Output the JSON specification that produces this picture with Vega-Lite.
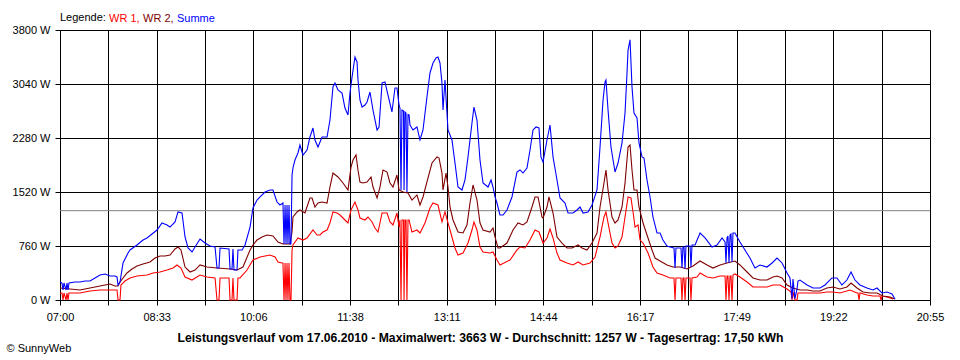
{
  "$schema": "https://vega.github.io/schema/vega-lite/v6.json",
  "width": 870,
  "height": 270,
  "autosize": "none",
  "padding": {"left": 60, "top": 30, "right": 30, "bottom": 60},
  "background": "white",
  "config": {
    "view": {"stroke": null},
    "font": "Liberation Sans",
    "axis": {"labelFont": "Liberation Sans", "labelFontSize": 11, "labelColor": "black", "titleFont": "Liberation Sans", "titleColor": "black", "domainColor": "black", "tickColor": "black", "gridColor": "black", "gridOpacity": 1, "gridWidth": 1, "tickSize": 5},
    "legend": {"labelFont": "Liberation Sans", "titleFont": "Liberation Sans"}
  },
  "data": {"values": [
    {"t":420,"s":"WR 1","w":99},{"t":421.9,"s":"WR 1","w":99},{"t":422.9,"s":"WR 1","w":0},{"t":423.8,"s":"WR 1","w":99},{"t":425.8,"s":"WR 1","w":0},{"t":426.7,"s":"WR 1","w":99},{"t":427.7,"s":"WR 1","w":0},{"t":428.6,"s":"WR 1","w":99},{"t":439.2,"s":"WR 1","w":99},{"t":448.8,"s":"WR 1","w":127},{"t":458.4,"s":"WR 1","w":141},{"t":468.0,"s":"WR 1","w":141},{"t":474.7,"s":"WR 1","w":141},{"t":475.7,"s":"WR 1","w":0},{"t":477.6,"s":"WR 1","w":0},{"t":478.5,"s":"WR 1","w":211},{"t":482.4,"s":"WR 1","w":267},{"t":487.2,"s":"WR 1","w":310},{"t":493.9,"s":"WR 1","w":338},{"t":503.5,"s":"WR 1","w":352},{"t":509.3,"s":"WR 1","w":380},{"t":516.0,"s":"WR 1","w":394},{"t":522.7,"s":"WR 1","w":422},{"t":528.5,"s":"WR 1","w":450},{"t":532.3,"s":"WR 1","w":493},{"t":536.1,"s":"WR 1","w":450},{"t":540.0,"s":"WR 1","w":324},{"t":546.7,"s":"WR 1","w":281},{"t":554.4,"s":"WR 1","w":352},{"t":561.1,"s":"WR 1","w":324},{"t":568.8,"s":"WR 1","w":310},{"t":570.7,"s":"WR 1","w":0},{"t":572.6,"s":"WR 1","w":0},{"t":573.6,"s":"WR 1","w":310},{"t":582.2,"s":"WR 1","w":310},{"t":583.2,"s":"WR 1","w":0},{"t":585.1,"s":"WR 1","w":0},{"t":586.0,"s":"WR 1","w":310},{"t":587.0,"s":"WR 1","w":0},{"t":589.9,"s":"WR 1","w":0},{"t":590.8,"s":"WR 1","w":310},{"t":592.8,"s":"WR 1","w":310},{"t":599.5,"s":"WR 1","w":422},{"t":605.2,"s":"WR 1","w":563},{"t":612.0,"s":"WR 1","w":605},{"t":621.6,"s":"WR 1","w":633},{"t":626.4,"s":"WR 1","w":605},{"t":629.2,"s":"WR 1","w":535},{"t":633.1,"s":"WR 1","w":521},{"t":634.0,"s":"WR 1","w":521},{"t":635.0,"s":"WR 1","w":0},{"t":636.0,"s":"WR 1","w":521},{"t":636.9,"s":"WR 1","w":0},{"t":637.9,"s":"WR 1","w":521},{"t":638.8,"s":"WR 1","w":0},{"t":639.8,"s":"WR 1","w":521},{"t":640.7,"s":"WR 1","w":0},{"t":641.7,"s":"WR 1","w":0},{"t":642.7,"s":"WR 1","w":704},{"t":643.6,"s":"WR 1","w":774},{"t":648.4,"s":"WR 1","w":873},{"t":653.2,"s":"WR 1","w":844},{"t":657.1,"s":"WR 1","w":873},{"t":662.8,"s":"WR 1","w":985},{"t":666.7,"s":"WR 1","w":915},{"t":669.5,"s":"WR 1","w":915},{"t":672.4,"s":"WR 1","w":957},{"t":676.3,"s":"WR 1","w":985},{"t":679.1,"s":"WR 1","w":1084},{"t":682.0,"s":"WR 1","w":1239},{"t":685.9,"s":"WR 1","w":1224},{"t":688.7,"s":"WR 1","w":1196},{"t":693.5,"s":"WR 1","w":1126},{"t":696.4,"s":"WR 1","w":1084},{"t":699.3,"s":"WR 1","w":1267},{"t":703.1,"s":"WR 1","w":1379},{"t":706.0,"s":"WR 1","w":1267},{"t":707.9,"s":"WR 1","w":1154},{"t":712.7,"s":"WR 1","w":1126},{"t":715.6,"s":"WR 1","w":1168},{"t":719.5,"s":"WR 1","w":1098},{"t":722.3,"s":"WR 1","w":1013},{"t":725.2,"s":"WR 1","w":957},{"t":729.1,"s":"WR 1","w":1224},{"t":733.9,"s":"WR 1","w":1224},{"t":736.7,"s":"WR 1","w":1098},{"t":739.6,"s":"WR 1","w":1056},{"t":743.4,"s":"WR 1","w":1224},{"t":745.4,"s":"WR 1","w":1027},{"t":746.3,"s":"WR 1","w":1126},{"t":747.3,"s":"WR 1","w":0},{"t":748.2,"s":"WR 1","w":1126},{"t":749.7,"s":"WR 1","w":1126},{"t":750.2,"s":"WR 1","w":0},{"t":751.1,"s":"WR 1","w":1126},{"t":752.1,"s":"WR 1","w":1126},{"t":753.0,"s":"WR 1","w":0},{"t":754.0,"s":"WR 1","w":1126},{"t":755.0,"s":"WR 1","w":1126},{"t":757.8,"s":"WR 1","w":957},{"t":762.6,"s":"WR 1","w":985},{"t":765.5,"s":"WR 1","w":943},{"t":770.3,"s":"WR 1","w":1084},{"t":775.1,"s":"WR 1","w":1295},{"t":778.0,"s":"WR 1","w":1365},{"t":782.8,"s":"WR 1","w":1337},{"t":786.6,"s":"WR 1","w":1098},{"t":789.5,"s":"WR 1","w":1239},{"t":792.4,"s":"WR 1","w":1084},{"t":796.2,"s":"WR 1","w":887},{"t":799.1,"s":"WR 1","w":732},{"t":802.0,"s":"WR 1","w":633},{"t":806.8,"s":"WR 1","w":661},{"t":811.6,"s":"WR 1","w":802},{"t":815.4,"s":"WR 1","w":985},{"t":817.3,"s":"WR 1","w":1098},{"t":820.2,"s":"WR 1","w":985},{"t":823.1,"s":"WR 1","w":746},{"t":826.0,"s":"WR 1","w":676},{"t":832.7,"s":"WR 1","w":661},{"t":835.6,"s":"WR 1","w":676},{"t":839.4,"s":"WR 1","w":563},{"t":842.3,"s":"WR 1","w":493},{"t":851.9,"s":"WR 1","w":563},{"t":858.6,"s":"WR 1","w":704},{"t":861.5,"s":"WR 1","w":746},{"t":866.3,"s":"WR 1","w":732},{"t":871.1,"s":"WR 1","w":844},{"t":875.9,"s":"WR 1","w":985},{"t":879.7,"s":"WR 1","w":957},{"t":883.6,"s":"WR 1","w":802},{"t":887.4,"s":"WR 1","w":873},{"t":890.3,"s":"WR 1","w":999},{"t":893.2,"s":"WR 1","w":873},{"t":897.0,"s":"WR 1","w":661},{"t":899.9,"s":"WR 1","w":563},{"t":906.6,"s":"WR 1","w":521},{"t":912.4,"s":"WR 1","w":493},{"t":917.2,"s":"WR 1","w":535},{"t":922.0,"s":"WR 1","w":493},{"t":928.7,"s":"WR 1","w":521},{"t":933.5,"s":"WR 1","w":605},{"t":938.3,"s":"WR 1","w":887},{"t":942.1,"s":"WR 1","w":1168},{"t":944.0,"s":"WR 1","w":1239},{"t":946.0,"s":"WR 1","w":1084},{"t":949.8,"s":"WR 1","w":802},{"t":952.7,"s":"WR 1","w":732},{"t":955.6,"s":"WR 1","w":760},{"t":959.4,"s":"WR 1","w":887},{"t":962.3,"s":"WR 1","w":1168},{"t":965.2,"s":"WR 1","w":1450},{"t":968.0,"s":"WR 1","w":1436},{"t":970.0,"s":"WR 1","w":1239},{"t":971.9,"s":"WR 1","w":1027},{"t":974.8,"s":"WR 1","w":1056},{"t":976.7,"s":"WR 1","w":844},{"t":979.6,"s":"WR 1","w":802},{"t":984.4,"s":"WR 1","w":661},{"t":989.1,"s":"WR 1","w":464},{"t":993.0,"s":"WR 1","w":380},{"t":998.7,"s":"WR 1","w":352},{"t":1005.5,"s":"WR 1","w":310},{"t":1009.3,"s":"WR 1","w":310},{"t":1010.3,"s":"WR 1","w":0},{"t":1011.2,"s":"WR 1","w":310},{"t":1016.0,"s":"WR 1","w":310},{"t":1017.0,"s":"WR 1","w":0},{"t":1017.9,"s":"WR 1","w":310},{"t":1018.9,"s":"WR 1","w":310},{"t":1019.9,"s":"WR 1","w":0},{"t":1020.8,"s":"WR 1","w":310},{"t":1024.7,"s":"WR 1","w":310},{"t":1025.6,"s":"WR 1","w":0},{"t":1026.6,"s":"WR 1","w":310},{"t":1031.4,"s":"WR 1","w":324},{"t":1034.3,"s":"WR 1","w":380},{"t":1041.0,"s":"WR 1","w":324},{"t":1046.7,"s":"WR 1","w":310},{"t":1053.5,"s":"WR 1","w":338},{"t":1058.3,"s":"WR 1","w":338},{"t":1059.2,"s":"WR 1","w":0},{"t":1060.2,"s":"WR 1","w":338},{"t":1061.1,"s":"WR 1","w":338},{"t":1062.1,"s":"WR 1","w":0},{"t":1063.1,"s":"WR 1","w":338},{"t":1064.0,"s":"WR 1","w":338},{"t":1065.0,"s":"WR 1","w":0},{"t":1065.9,"s":"WR 1","w":352},{"t":1067.8,"s":"WR 1","w":366},{"t":1072.6,"s":"WR 1","w":324},{"t":1079.4,"s":"WR 1","w":253},{"t":1085.1,"s":"WR 1","w":183},{"t":1091.8,"s":"WR 1","w":183},{"t":1098.6,"s":"WR 1","w":183},{"t":1104.3,"s":"WR 1","w":211},{"t":1111.0,"s":"WR 1","w":211},{"t":1117.8,"s":"WR 1","w":155},{"t":1121.6,"s":"WR 1","w":113},{"t":1122.6,"s":"WR 1","w":0},{"t":1123.5,"s":"WR 1","w":113},{"t":1125.4,"s":"WR 1","w":0},{"t":1127.4,"s":"WR 1","w":0},{"t":1128.3,"s":"WR 1","w":99},{"t":1130.2,"s":"WR 1","w":99},{"t":1142.7,"s":"WR 1","w":99},{"t":1149.4,"s":"WR 1","w":99},{"t":1156.1,"s":"WR 1","w":113},{"t":1161.9,"s":"WR 1","w":113},{"t":1168.6,"s":"WR 1","w":99},{"t":1178.2,"s":"WR 1","w":141},{"t":1184.9,"s":"WR 1","w":99},{"t":1185.9,"s":"WR 1","w":99},{"t":1186.9,"s":"WR 1","w":0},{"t":1187.8,"s":"WR 1","w":99},{"t":1194.5,"s":"WR 1","w":70},{"t":1200.3,"s":"WR 1","w":56},{"t":1207.0,"s":"WR 1","w":56},{"t":1208.0,"s":"WR 1","w":0},{"t":1208.9,"s":"WR 1","w":56},{"t":1213.7,"s":"WR 1","w":42},{"t":1219.5,"s":"WR 1","w":14},

    {"t":420,"s":"WR 2","w":169},{"t":429.6,"s":"WR 2","w":155},{"t":439.2,"s":"WR 2","w":141},{"t":448.8,"s":"WR 2","w":169},{"t":458.4,"s":"WR 2","w":197},{"t":468.0,"s":"WR 2","w":225},{"t":472.8,"s":"WR 2","w":197},{"t":475.7,"s":"WR 2","w":197},{"t":477.6,"s":"WR 2","w":253},{"t":484.3,"s":"WR 2","w":380},{"t":489.1,"s":"WR 2","w":436},{"t":493.9,"s":"WR 2","w":479},{"t":499.7,"s":"WR 2","w":507},{"t":506.4,"s":"WR 2","w":535},{"t":511.2,"s":"WR 2","w":591},{"t":516.0,"s":"WR 2","w":619},{"t":520.8,"s":"WR 2","w":619},{"t":525.6,"s":"WR 2","w":633},{"t":530.4,"s":"WR 2","w":718},{"t":533.3,"s":"WR 2","w":746},{"t":536.1,"s":"WR 2","w":704},{"t":540.0,"s":"WR 2","w":464},{"t":544.8,"s":"WR 2","w":394},{"t":549.6,"s":"WR 2","w":422},{"t":554.4,"s":"WR 2","w":493},{"t":561.1,"s":"WR 2","w":464},{"t":570.7,"s":"WR 2","w":450},{"t":583.2,"s":"WR 2","w":436},{"t":589.9,"s":"WR 2","w":422},{"t":595.6,"s":"WR 2","w":464},{"t":602.4,"s":"WR 2","w":704},{"t":605.2,"s":"WR 2","w":774},{"t":609.1,"s":"WR 2","w":844},{"t":613.9,"s":"WR 2","w":887},{"t":618.7,"s":"WR 2","w":915},{"t":624.4,"s":"WR 2","w":901},{"t":629.2,"s":"WR 2","w":816},{"t":634.0,"s":"WR 2","w":788},{"t":640.7,"s":"WR 2","w":788},{"t":642.7,"s":"WR 2","w":957},{"t":643.6,"s":"WR 2","w":1168},{"t":647.5,"s":"WR 2","w":1239},{"t":650.3,"s":"WR 2","w":1267},{"t":655.1,"s":"WR 2","w":1224},{"t":659.9,"s":"WR 2","w":1436},{"t":661.9,"s":"WR 2","w":1436},{"t":664.7,"s":"WR 2","w":1309},{"t":667.6,"s":"WR 2","w":1365},{"t":671.5,"s":"WR 2","w":1379},{"t":676.3,"s":"WR 2","w":1365},{"t":679.1,"s":"WR 2","w":1590},{"t":682.0,"s":"WR 2","w":1787},{"t":686.8,"s":"WR 2","w":1731},{"t":691.6,"s":"WR 2","w":1647},{"t":696.4,"s":"WR 2","w":1548},{"t":699.3,"s":"WR 2","w":1872},{"t":701.2,"s":"WR 2","w":1970},{"t":704.1,"s":"WR 2","w":2041},{"t":706.0,"s":"WR 2","w":1830},{"t":707.9,"s":"WR 2","w":1661},{"t":710.8,"s":"WR 2","w":1647},{"t":714.7,"s":"WR 2","w":1661},{"t":718.5,"s":"WR 2","w":1731},{"t":720.4,"s":"WR 2","w":1590},{"t":724.3,"s":"WR 2","w":1436},{"t":727.1,"s":"WR 2","w":1590},{"t":730.0,"s":"WR 2","w":1830},{"t":733.9,"s":"WR 2","w":1801},{"t":736.7,"s":"WR 2","w":1647},{"t":739.6,"s":"WR 2","w":1590},{"t":743.4,"s":"WR 2","w":1759},{"t":745.4,"s":"WR 2","w":1548},{"t":749.2,"s":"WR 2","w":1520},{"t":754.0,"s":"WR 2","w":1506},{"t":757.8,"s":"WR 2","w":1407},{"t":762.6,"s":"WR 2","w":1478},{"t":765.5,"s":"WR 2","w":1337},{"t":768.4,"s":"WR 2","w":1450},{"t":772.2,"s":"WR 2","w":1661},{"t":777.0,"s":"WR 2","w":1928},{"t":781.8,"s":"WR 2","w":2013},{"t":783.8,"s":"WR 2","w":1998},{"t":786.6,"s":"WR 2","w":1787},{"t":787.6,"s":"WR 2","w":1548},{"t":790.5,"s":"WR 2","w":1787},{"t":792.4,"s":"WR 2","w":1590},{"t":794.3,"s":"WR 2","w":1309},{"t":797.2,"s":"WR 2","w":1126},{"t":802.0,"s":"WR 2","w":957},{"t":806.8,"s":"WR 2","w":943},{"t":810.6,"s":"WR 2","w":1056},{"t":813.5,"s":"WR 2","w":1365},{"t":816.4,"s":"WR 2","w":1619},{"t":820.2,"s":"WR 2","w":1407},{"t":823.1,"s":"WR 2","w":1084},{"t":826.0,"s":"WR 2","w":985},{"t":832.7,"s":"WR 2","w":957},{"t":835.6,"s":"WR 2","w":1013},{"t":837.5,"s":"WR 2","w":887},{"t":840.4,"s":"WR 2","w":732},{"t":842.3,"s":"WR 2","w":732},{"t":849.0,"s":"WR 2","w":802},{"t":854.8,"s":"WR 2","w":985},{"t":859.6,"s":"WR 2","w":1084},{"t":864.4,"s":"WR 2","w":1056},{"t":868.2,"s":"WR 2","w":1098},{"t":873.0,"s":"WR 2","w":1309},{"t":875.9,"s":"WR 2","w":1450},{"t":878.8,"s":"WR 2","w":1450},{"t":882.6,"s":"WR 2","w":1168},{"t":883.6,"s":"WR 2","w":1154},{"t":887.4,"s":"WR 2","w":1309},{"t":889.3,"s":"WR 2","w":1450},{"t":893.2,"s":"WR 2","w":1224},{"t":897.0,"s":"WR 2","w":887},{"t":901.8,"s":"WR 2","w":802},{"t":906.6,"s":"WR 2","w":732},{"t":911.4,"s":"WR 2","w":732},{"t":917.2,"s":"WR 2","w":774},{"t":921.0,"s":"WR 2","w":732},{"t":925.8,"s":"WR 2","w":704},{"t":930.6,"s":"WR 2","w":802},{"t":935.4,"s":"WR 2","w":943},{"t":938.3,"s":"WR 2","w":1309},{"t":942.1,"s":"WR 2","w":1647},{"t":944.0,"s":"WR 2","w":1830},{"t":946.0,"s":"WR 2","w":1548},{"t":949.8,"s":"WR 2","w":1168},{"t":952.7,"s":"WR 2","w":1084},{"t":955.6,"s":"WR 2","w":1126},{"t":959.4,"s":"WR 2","w":1309},{"t":962.3,"s":"WR 2","w":1647},{"t":965.2,"s":"WR 2","w":2153},{"t":967.1,"s":"WR 2","w":2181},{"t":969.0,"s":"WR 2","w":1830},{"t":970.9,"s":"WR 2","w":1548},{"t":973.8,"s":"WR 2","w":1548},{"t":975.7,"s":"WR 2","w":1309},{"t":979.6,"s":"WR 2","w":1084},{"t":983.4,"s":"WR 2","w":915},{"t":988.2,"s":"WR 2","w":704},{"t":991.1,"s":"WR 2","w":591},{"t":995.9,"s":"WR 2","w":549},{"t":1002.6,"s":"WR 2","w":493},{"t":1008.3,"s":"WR 2","w":464},{"t":1015.1,"s":"WR 2","w":464},{"t":1021.8,"s":"WR 2","w":436},{"t":1027.5,"s":"WR 2","w":479},{"t":1034.3,"s":"WR 2","w":549},{"t":1041.0,"s":"WR 2","w":493},{"t":1046.7,"s":"WR 2","w":450},{"t":1053.5,"s":"WR 2","w":493},{"t":1060.2,"s":"WR 2","w":521},{"t":1067.8,"s":"WR 2","w":549},{"t":1072.6,"s":"WR 2","w":493},{"t":1079.4,"s":"WR 2","w":394},{"t":1085.1,"s":"WR 2","w":310},{"t":1091.8,"s":"WR 2","w":281},{"t":1098.6,"s":"WR 2","w":281},{"t":1104.3,"s":"WR 2","w":324},{"t":1108.2,"s":"WR 2","w":338},{"t":1113.0,"s":"WR 2","w":310},{"t":1117.8,"s":"WR 2","w":211},{"t":1123.5,"s":"WR 2","w":169},{"t":1130.2,"s":"WR 2","w":141},{"t":1137.0,"s":"WR 2","w":141},{"t":1142.7,"s":"WR 2","w":127},{"t":1149.4,"s":"WR 2","w":127},{"t":1156.1,"s":"WR 2","w":169},{"t":1161.9,"s":"WR 2","w":183},{"t":1168.6,"s":"WR 2","w":155},{"t":1175.3,"s":"WR 2","w":183},{"t":1179.2,"s":"WR 2","w":239},{"t":1184.9,"s":"WR 2","w":169},{"t":1190.7,"s":"WR 2","w":113},{"t":1197.4,"s":"WR 2","w":99},{"t":1204.1,"s":"WR 2","w":99},{"t":1209.9,"s":"WR 2","w":56},{"t":1216.6,"s":"WR 2","w":42},{"t":1221.4,"s":"WR 2","w":14},

    {"t":420,"s":"Summe","w":253},{"t":421.9,"s":"Summe","w":239},{"t":422.9,"s":"Summe","w":141},{"t":423.8,"s":"Summe","w":239},{"t":425.8,"s":"Summe","w":141},{"t":426.7,"s":"Summe","w":239},{"t":427.7,"s":"Summe","w":141},{"t":428.6,"s":"Summe","w":239},{"t":434.4,"s":"Summe","w":253},{"t":439.2,"s":"Summe","w":253},{"t":444.0,"s":"Summe","w":267},{"t":448.8,"s":"Summe","w":267},{"t":453.6,"s":"Summe","w":310},{"t":458.4,"s":"Summe","w":352},{"t":463.2,"s":"Summe","w":366},{"t":468.0,"s":"Summe","w":338},{"t":472.8,"s":"Summe","w":338},{"t":474.7,"s":"Summe","w":324},{"t":475.7,"s":"Summe","w":211},{"t":477.6,"s":"Summe","w":253},{"t":480.5,"s":"Summe","w":521},{"t":485.3,"s":"Summe","w":661},{"t":487.2,"s":"Summe","w":704},{"t":493.9,"s":"Summe","w":774},{"t":499.7,"s":"Summe","w":844},{"t":503.5,"s":"Summe","w":873},{"t":508.3,"s":"Summe","w":929},{"t":513.1,"s":"Summe","w":985},{"t":517.9,"s":"Summe","w":1084},{"t":522.7,"s":"Summe","w":1056},{"t":525.6,"s":"Summe","w":1027},{"t":530.4,"s":"Summe","w":1098},{"t":533.3,"s":"Summe","w":1239},{"t":537.1,"s":"Summe","w":1224},{"t":540.0,"s":"Summe","w":887},{"t":542.9,"s":"Summe","w":732},{"t":546.7,"s":"Summe","w":676},{"t":549.6,"s":"Summe","w":746},{"t":554.4,"s":"Summe","w":859},{"t":559.2,"s":"Summe","w":802},{"t":564.0,"s":"Summe","w":760},{"t":568.8,"s":"Summe","w":746},{"t":570.7,"s":"Summe","w":450},{"t":572.6,"s":"Summe","w":450},{"t":573.6,"s":"Summe","w":732},{"t":582.2,"s":"Summe","w":718},{"t":583.2,"s":"Summe","w":436},{"t":585.1,"s":"Summe","w":436},{"t":586.0,"s":"Summe","w":718},{"t":587.0,"s":"Summe","w":422},{"t":589.9,"s":"Summe","w":422},{"t":590.8,"s":"Summe","w":704},{"t":594.7,"s":"Summe","w":704},{"t":597.6,"s":"Summe","w":774},{"t":602.4,"s":"Summe","w":1027},{"t":605.2,"s":"Summe","w":1295},{"t":609.1,"s":"Summe","w":1407},{"t":612.0,"s":"Summe","w":1450},{"t":616.8,"s":"Summe","w":1520},{"t":621.6,"s":"Summe","w":1548},{"t":624.4,"s":"Summe","w":1548},{"t":628.3,"s":"Summe","w":1379},{"t":631.1,"s":"Summe","w":1337},{"t":634.0,"s":"Summe","w":1365},{"t":635.0,"s":"Summe","w":788},{"t":636.0,"s":"Summe","w":1337},{"t":636.9,"s":"Summe","w":788},{"t":637.9,"s":"Summe","w":1337},{"t":638.8,"s":"Summe","w":788},{"t":639.8,"s":"Summe","w":1337},{"t":640.7,"s":"Summe","w":788},{"t":641.7,"s":"Summe","w":788},{"t":642.7,"s":"Summe","w":1759},{"t":643.6,"s":"Summe","w":1858},{"t":645.5,"s":"Summe","w":1970},{"t":648.4,"s":"Summe","w":2069},{"t":650.3,"s":"Summe","w":2181},{"t":653.2,"s":"Summe","w":2041},{"t":657.1,"s":"Summe","w":2111},{"t":659.9,"s":"Summe","w":2294},{"t":662.8,"s":"Summe","w":2421},{"t":664.7,"s":"Summe","w":2252},{"t":667.6,"s":"Summe","w":2153},{"t":671.5,"s":"Summe","w":2294},{"t":676.3,"s":"Summe","w":2294},{"t":679.1,"s":"Summe","w":2533},{"t":682.0,"s":"Summe","w":2998},{"t":683.9,"s":"Summe","w":3054},{"t":686.8,"s":"Summe","w":2956},{"t":690.7,"s":"Summe","w":2913},{"t":693.5,"s":"Summe","w":2702},{"t":696.4,"s":"Summe","w":2604},{"t":698.3,"s":"Summe","w":2913},{"t":700.3,"s":"Summe","w":3139},{"t":703.1,"s":"Summe","w":3420},{"t":705.1,"s":"Summe","w":3350},{"t":706.0,"s":"Summe","w":3096},{"t":707.9,"s":"Summe","w":2815},{"t":709.9,"s":"Summe","w":2716},{"t":712.7,"s":"Summe","w":2744},{"t":714.7,"s":"Summe","w":2787},{"t":717.5,"s":"Summe","w":2927},{"t":720.4,"s":"Summe","w":2674},{"t":724.3,"s":"Summe","w":2393},{"t":726.2,"s":"Summe","w":2435},{"t":729.1,"s":"Summe","w":3054},{"t":731.9,"s":"Summe","w":3068},{"t":734.8,"s":"Summe","w":2885},{"t":738.6,"s":"Summe","w":2646},{"t":741.5,"s":"Summe","w":2984},{"t":743.4,"s":"Summe","w":2984},{"t":745.4,"s":"Summe","w":2744},{"t":746.3,"s":"Summe","w":2702},{"t":747.3,"s":"Summe","w":1548},{"t":748.2,"s":"Summe","w":2674},{"t":749.7,"s":"Summe","w":2660},{"t":750.2,"s":"Summe","w":1548},{"t":751.1,"s":"Summe","w":2646},{"t":752.1,"s":"Summe","w":2630},{"t":753.0,"s":"Summe","w":1520},{"t":754.0,"s":"Summe","w":2610},{"t":755.0,"s":"Summe","w":2604},{"t":755.9,"s":"Summe","w":2463},{"t":758.8,"s":"Summe","w":2393},{"t":762.6,"s":"Summe","w":2435},{"t":765.5,"s":"Summe","w":2252},{"t":768.4,"s":"Summe","w":2393},{"t":772.2,"s":"Summe","w":2857},{"t":775.1,"s":"Summe","w":3195},{"t":778.0,"s":"Summe","w":3336},{"t":780.9,"s":"Summe","w":3406},{"t":782.8,"s":"Summe","w":3420},{"t":784.7,"s":"Summe","w":3336},{"t":786.6,"s":"Summe","w":3054},{"t":787.6,"s":"Summe","w":2674},{"t":789.5,"s":"Summe","w":3096},{"t":791.4,"s":"Summe","w":2632},{"t":792.4,"s":"Summe","w":2393},{"t":796.2,"s":"Summe","w":2252},{"t":799.1,"s":"Summe","w":1928},{"t":802.0,"s":"Summe","w":1590},{"t":805.8,"s":"Summe","w":1548},{"t":808.7,"s":"Summe","w":1689},{"t":811.6,"s":"Summe","w":2013},{"t":815.4,"s":"Summe","w":2491},{"t":817.3,"s":"Summe","w":2716},{"t":820.2,"s":"Summe","w":2533},{"t":823.1,"s":"Summe","w":1970},{"t":826.0,"s":"Summe","w":1647},{"t":830.8,"s":"Summe","w":1590},{"t":833.7,"s":"Summe","w":1689},{"t":835.6,"s":"Summe","w":1590},{"t":837.5,"s":"Summe","w":1450},{"t":839.4,"s":"Summe","w":1365},{"t":842.3,"s":"Summe","w":1196},{"t":845.2,"s":"Summe","w":1196},{"t":849.0,"s":"Summe","w":1267},{"t":853.8,"s":"Summe","w":1450},{"t":858.6,"s":"Summe","w":1801},{"t":861.5,"s":"Summe","w":1830},{"t":864.4,"s":"Summe","w":1787},{"t":868.2,"s":"Summe","w":1858},{"t":871.1,"s":"Summe","w":2111},{"t":874.0,"s":"Summe","w":2393},{"t":876.9,"s":"Summe","w":2435},{"t":879.7,"s":"Summe","w":2421},{"t":881.6,"s":"Summe","w":2013},{"t":883.6,"s":"Summe","w":1942},{"t":887.4,"s":"Summe","w":2252},{"t":890.3,"s":"Summe","w":2463},{"t":893.2,"s":"Summe","w":2013},{"t":897.0,"s":"Summe","w":1689},{"t":899.9,"s":"Summe","w":1436},{"t":904.7,"s":"Summe","w":1365},{"t":907.6,"s":"Summe","w":1224},{"t":912.4,"s":"Summe","w":1224},{"t":916.2,"s":"Summe","w":1267},{"t":919.1,"s":"Summe","w":1309},{"t":922.0,"s":"Summe","w":1224},{"t":926.8,"s":"Summe","w":1239},{"t":930.6,"s":"Summe","w":1337},{"t":935.4,"s":"Summe","w":1548},{"t":938.3,"s":"Summe","w":2153},{"t":941.2,"s":"Summe","w":2815},{"t":943.1,"s":"Summe","w":3068},{"t":944.0,"s":"Summe","w":3096},{"t":946.0,"s":"Summe","w":2674},{"t":948.8,"s":"Summe","w":2153},{"t":952.7,"s":"Summe","w":1801},{"t":955.6,"s":"Summe","w":1928},{"t":959.4,"s":"Summe","w":2210},{"t":962.3,"s":"Summe","w":2632},{"t":964.2,"s":"Summe","w":3195},{"t":965.2,"s":"Summe","w":3518},{"t":967.1,"s":"Summe","w":3663},{"t":969.0,"s":"Summe","w":2998},{"t":970.9,"s":"Summe","w":2632},{"t":973.8,"s":"Summe","w":2561},{"t":975.7,"s":"Summe","w":2210},{"t":978.6,"s":"Summe","w":2013},{"t":980.5,"s":"Summe","w":1998},{"t":983.4,"s":"Summe","w":1689},{"t":986.3,"s":"Summe","w":1450},{"t":989.1,"s":"Summe","w":1168},{"t":993.0,"s":"Summe","w":943},{"t":995.9,"s":"Summe","w":943},{"t":998.7,"s":"Summe","w":844},{"t":1002.6,"s":"Summe","w":760},{"t":1005.5,"s":"Summe","w":746},{"t":1009.3,"s":"Summe","w":732},{"t":1010.3,"s":"Summe","w":450},{"t":1011.2,"s":"Summe","w":732},{"t":1016.0,"s":"Summe","w":732},{"t":1017.0,"s":"Summe","w":450},{"t":1017.9,"s":"Summe","w":746},{"t":1018.9,"s":"Summe","w":746},{"t":1019.9,"s":"Summe","w":436},{"t":1020.8,"s":"Summe","w":760},{"t":1024.7,"s":"Summe","w":760},{"t":1025.6,"s":"Summe","w":464},{"t":1026.6,"s":"Summe","w":774},{"t":1029.5,"s":"Summe","w":774},{"t":1034.3,"s":"Summe","w":943},{"t":1039.1,"s":"Summe","w":873},{"t":1045.8,"s":"Summe","w":746},{"t":1050.6,"s":"Summe","w":774},{"t":1055.4,"s":"Summe","w":873},{"t":1058.3,"s":"Summe","w":816},{"t":1059.2,"s":"Summe","w":521},{"t":1060.2,"s":"Summe","w":873},{"t":1061.1,"s":"Summe","w":901},{"t":1062.1,"s":"Summe","w":521},{"t":1063.1,"s":"Summe","w":915},{"t":1064.0,"s":"Summe","w":929},{"t":1065.0,"s":"Summe","w":535},{"t":1065.9,"s":"Summe","w":943},{"t":1067.8,"s":"Summe","w":943},{"t":1072.6,"s":"Summe","w":816},{"t":1077.4,"s":"Summe","w":704},{"t":1082.2,"s":"Summe","w":591},{"t":1087.0,"s":"Summe","w":450},{"t":1091.8,"s":"Summe","w":493},{"t":1098.6,"s":"Summe","w":464},{"t":1103.4,"s":"Summe","w":521},{"t":1108.2,"s":"Summe","w":591},{"t":1113.0,"s":"Summe","w":521},{"t":1117.8,"s":"Summe","w":380},{"t":1120.6,"s":"Summe","w":310},{"t":1122.6,"s":"Summe","w":20},{"t":1123.5,"s":"Summe","w":296},{"t":1125.4,"s":"Summe","w":20},{"t":1127.4,"s":"Summe","w":155},{"t":1128.3,"s":"Summe","w":267},{"t":1130.2,"s":"Summe","w":281},{"t":1137.0,"s":"Summe","w":211},{"t":1142.7,"s":"Summe","w":169},{"t":1149.4,"s":"Summe","w":169},{"t":1154.2,"s":"Summe","w":211},{"t":1160.9,"s":"Summe","w":310},{"t":1165.7,"s":"Summe","w":310},{"t":1170.5,"s":"Summe","w":211},{"t":1175.3,"s":"Summe","w":281},{"t":1179.2,"s":"Summe","w":394},{"t":1183.0,"s":"Summe","w":281},{"t":1187.8,"s":"Summe","w":211},{"t":1194.5,"s":"Summe","w":169},{"t":1200.3,"s":"Summe","w":141},{"t":1204.1,"s":"Summe","w":169},{"t":1208.9,"s":"Summe","w":99},{"t":1213.7,"s":"Summe","w":113},{"t":1218.5,"s":"Summe","w":84},{"t":1221.4,"s":"Summe","w":14}
  ]},
  "layer": [
    {
      "data": {"values": [{"w": 1257}]},
      "mark": {"type": "rule", "color": "#808080", "strokeWidth": 1},
      "encoding": {"y": {"field": "w", "type": "quantitative"}}
    },
    {
      "mark": {"type": "line", "strokeWidth": 1.1, "interpolate": "linear"},
      "encoding": {
        "x": {
          "field": "t", "type": "quantitative",
          "scale": {"domain": [420, 1255], "nice": false, "zero": false},
          "axis": {
            "values": [420, 466.389, 512.778, 559.167, 605.556, 651.944, 698.333, 744.722, 791.111, 837.5, 883.889, 930.278, 976.667, 1023.056, 1069.444, 1115.833, 1162.222, 1208.611, 1255],
            "grid": true, "labelOverlap": false, "labelFlush": false, "labelBound": false,
            "labelPadding": 6,
            "labelExpr": "round((datum.value-420)/46.3889)%2==1 ? '' : (floor(round(datum.value)/60)<10?'0':'') + floor(round(datum.value)/60) + ':' + (round(datum.value)%60<10?'0':'') + (round(datum.value)%60)",
            "title": "Leistungsverlauf vom 17.06.2010 - Maximalwert: 3663 W - Durchschnitt: 1257 W - Tagesertrag: 17,50 kWh",
            "titleFontSize": 12.2, "titleFontWeight": "bold", "titleX": 420, "titleY": 41, "titleAlign": "center", "titleBaseline": "alphabetic"
          }
        },
        "y": {
          "field": "w", "type": "quantitative",
          "scale": {"domain": [0, 3800], "nice": false},
          "axis": {
            "values": [0, 760, 1520, 2280, 3040, 3800],
            "grid": true, "labelExpr": "datum.value + ' W'", "labelPadding": 5, "labelOverlap": false, "labelBound": false,
            "title": "© SunnyWeb", "titleAngle": 0, "titleX": -54, "titleY": 321, "titleAlign": "left", "titleBaseline": "alphabetic", "titleFontSize": 11, "titleFontWeight": "normal"
          }
        },
        "color": {
          "field": "s", "type": "nominal",
          "scale": {"domain": ["WR 1", "WR 2", "Summe"], "range": ["#ff0000", "#800000", "#0000ff"]},
          "legend": {
            "orient": "none", "legendX": 0, "legendY": -17, "direction": "horizontal",
            "title": "Legende:", "titleOrient": "left", "titleFontSize": 11, "titleFontWeight": "normal", "titleColor": "black", "titlePadding": 3,
            "labelFontSize": 11, "symbolType": "circle", "symbolSize": 1, "symbolStrokeWidth": 0, "symbolOpacity": 0, "labelOffset": -11, "columnPadding": 3,
            "labelExpr": "datum.label == 'Summe' ? datum.label : datum.label + ','",
            "labelColor": {"expr": "datum.label == 'WR 1' ? '#ff0000' : datum.label == 'WR 2' ? '#800000' : '#0000ff'"}
          }
        }
      }
    }
  ]
}
